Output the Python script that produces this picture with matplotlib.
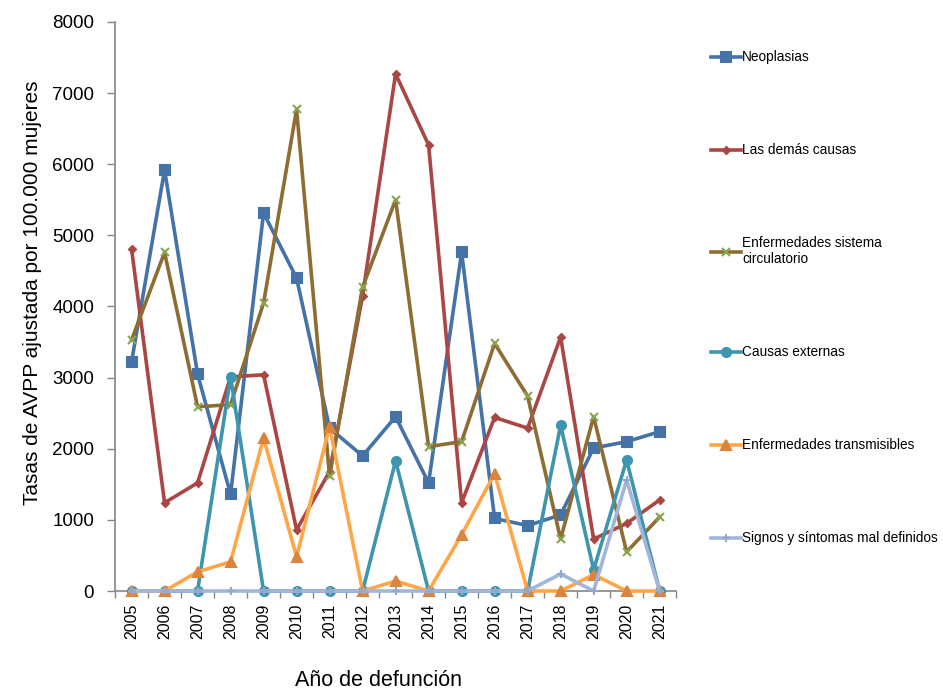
import matplotlib
matplotlib.use("Agg")
import matplotlib.pyplot as plt
from matplotlib.ticker import MultipleLocator, FixedLocator, NullFormatter

plt.rcParams['font.family'] = ['Liberation Sans', 'DejaVu Sans']

years = [str(y) for y in range(2005, 2022)]

neoplasias = [3220, 5920, 3050, 1360, 5315, 4400, 2290, 1900, 2450, 1520,
              4760, 1020, 920, 1070, 2010, 2100, 2240]
demas_causas = [4810, 1240, 1520, 3010, 3040, 860, 1680, 4150, 7270, 6270,
                1240, 2440, 2290, 3570, 730, 950, 1280]
circulatorio = [3530, 4760, 2590, 2620, 4050, 6770, 1610, 4270, 5500, 2030,
                2100, 3480, 2740, 730, 2450, 550, 1040]
externas = [0, 0, 0, 3010, 0, 0, 0, 0, 1830, 0,
            0, 0, 0, 2330, 300, 1840, 0]
transmisibles = [0, 0, 270, 410, 2150, 480, 2310, 0, 140, 0,
                 790, 1650, 0, 0, 230, 0, 0]
mal_definidos = [0, 0, 0, 0, 0, 0, 0, 0, 0, 0,
                 0, 0, 0, 240, 0, 1560, 0]

series = [
    ("Neoplasias", neoplasias, "#4572A7", "#4572A7", "s", 6.5),
    ("Las demás causas", demas_causas, "#AA4643", "#AA4643", "D", 3.5),
    ("Enfermedades sistema\ncirculatorio", circulatorio, "#8E6D34", "#89A54E", "x", 6),
    ("Causas externas", externas, "#3D96AE", "#3D96AE", "o", 6.5),
    ("Enfermedades transmisibles", transmisibles, "#FFA748", "#DB843D", "^", 6.5),
    ("Signos y síntomas mal definidos", mal_definidos, "#A2B5DA", "#92A8CD", "+", 6),
]

fig = plt.figure(figsize=(9.43, 6.91), dpi=100)
ax = fig.add_axes([0.122, 0.1447, 0.595, 0.8235])

x = list(range(len(years)))
for label, vals, lc, mc, mk, ms in series:
    ax.plot(x, vals, color=lc, lw=2.6, marker=mk, markersize=ms,
            markerfacecolor=mc, markeredgecolor=mc, markeredgewidth=1.5,
            label=label, clip_on=False, zorder=3)

ax.set_xlim(-0.5, len(years) - 0.5)
ax.set_ylim(0, 8000)
ax.yaxis.set_major_locator(MultipleLocator(1000))

ax.set_xticks(x)
ax.set_xticklabels(years, rotation=90, fontsize=11.5)
ax.xaxis.set_minor_locator(FixedLocator([i - 0.5 for i in range(len(years) + 1)]))
ax.xaxis.set_minor_formatter(NullFormatter())
ax.tick_params(axis='x', which='major', length=0, pad=9)
ax.tick_params(axis='x', which='minor', length=5, width=1, color="#868686", direction='out')
ax.tick_params(axis='y', labelsize=13.5, length=6, width=1, color="#868686", pad=9)

for side in ("top", "right"):
    ax.spines[side].set_visible(False)
for side in ("left", "bottom"):
    ax.spines[side].set_color("#868686")
    ax.spines[side].set_linewidth(1.2)

ax.set_ylabel("Tasas de AVPP ajustada por 100.000 mujeres", fontsize=15)
ax.yaxis.set_label_coords(-0.13, 0.525)
ax.set_xlabel("Año de defunción", fontsize=15.5)
ax.xaxis.set_label_coords(0.469, -0.138)

fig.legend(loc="upper left", bbox_to_anchor=(0.748, 0.935), frameon=False,
           fontsize=9.8, labelspacing=5.8, handlelength=2.2, handletextpad=0.1,
           borderaxespad=0)

fig.savefig("out.png", dpi=100)
